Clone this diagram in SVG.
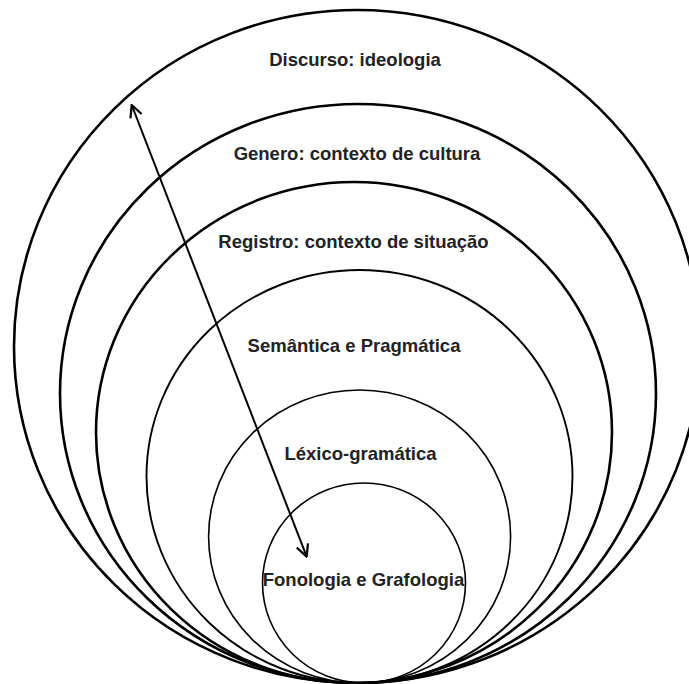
<svg xmlns="http://www.w3.org/2000/svg" width="689" height="684" viewBox="0 0 689 684">
<style>
.ring{fill:none;stroke:#000}
.thick{stroke-width:2.6}
.thin{stroke-width:1.6}
.lbl{font-family:"Liberation Sans",Arial,sans-serif;font-weight:bold;font-size:18.5px;fill:#222;text-anchor:middle}
</style>
<defs>
<marker id="ah" markerUnits="userSpaceOnUse" viewBox="-1 -7 14 14" refX="12" refY="0" markerWidth="14" markerHeight="14" orient="auto-start-reverse">
<path d="M0,-6 L12,0 L0,6" fill="none" stroke="#000" stroke-width="2.2" stroke-linejoin="miter"/>
</marker>
</defs>
<rect width="689" height="684" fill="#fff"/>
<g id="discurso">
<ellipse class="ring thick" cx="357" cy="346.5" rx="343" ry="336.5"/>
<text class="lbl" x="355" y="66">Discurso: ideologia</text>
</g>
<g id="genero">
<ellipse class="ring thick" cx="358" cy="393.5" rx="298" ry="289.5"/>
<text class="lbl" x="357" y="160">Genero: contexto de cultura</text>
</g>
<g id="registro">
<ellipse class="ring thick" cx="354" cy="432.5" rx="258" ry="250.5"/>
<text class="lbl" x="353.5" y="248">Registro: contexto de situação</text>
</g>
<g id="semantica">
<ellipse class="ring" stroke-width="1.9" cx="359.5" cy="476.5" rx="213" ry="206.5"/>
<text class="lbl" x="354" y="352">Semântica e Pragmática</text>
</g>
<g id="lexico">
<ellipse class="ring thin" cx="359.6" cy="536.5" rx="151" ry="146.5"/>
<text class="lbl" x="360.5" y="460">Léxico-gramática</text>
</g>
<g id="fonologia">
<ellipse class="ring thin" cx="364" cy="583" rx="101.5" ry="100"/>
<text class="lbl" x="363.5" y="586">Fonologia e Grafologia</text>
</g>
<g id="connectors">
<line x1="131.7" y1="105" x2="306.7" y2="556.7" stroke="#000" stroke-width="2" marker-start="url(#ah)" marker-end="url(#ah)"/>
</g>
</svg>
